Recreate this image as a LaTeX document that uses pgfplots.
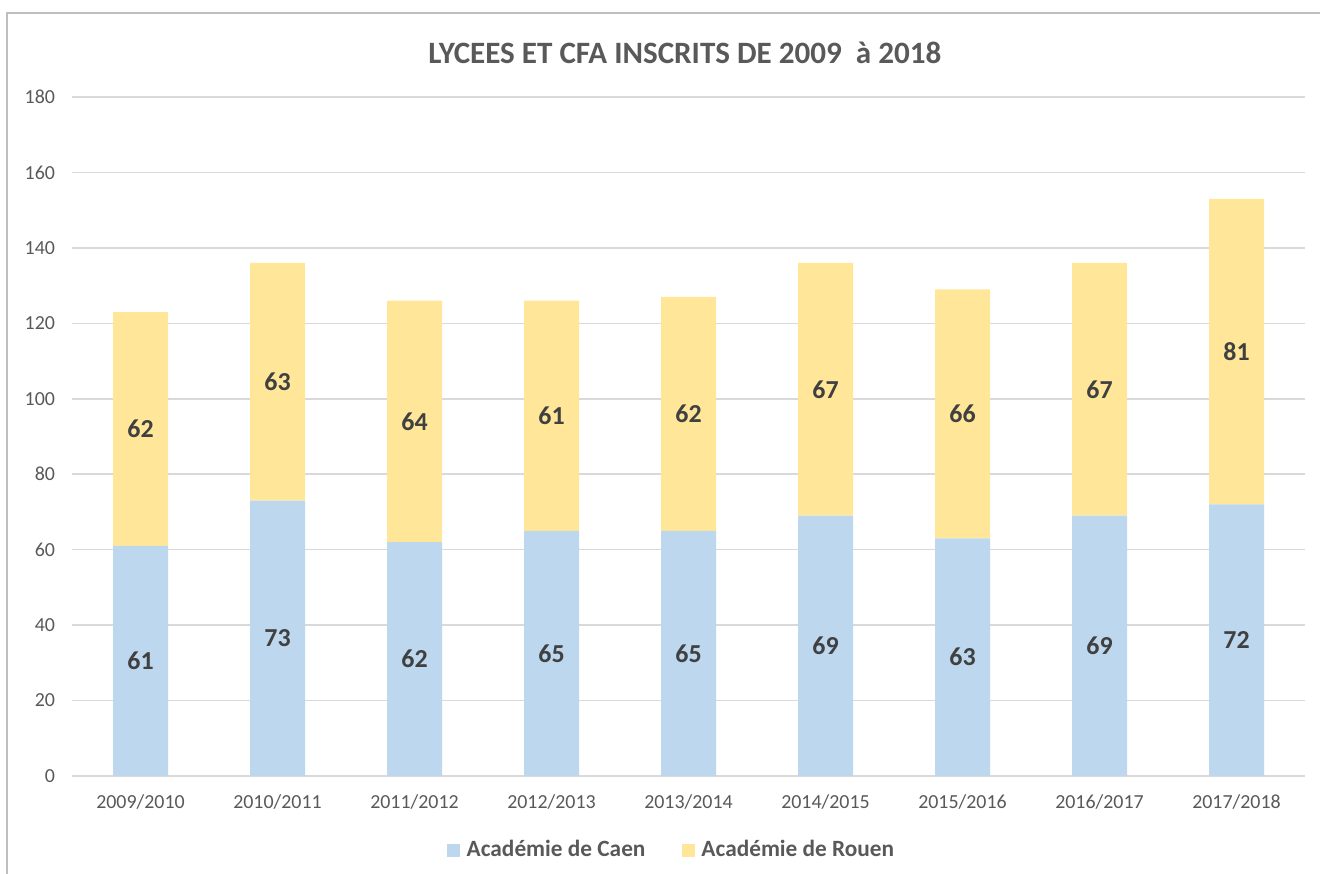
\documentclass[border=0pt]{standalone}
\usepackage{fontspec}
\setmainfont{Carlito}
\usepackage{pgfplots}
\pgfplotsset{compat=1.18}
\definecolor{caen}{HTML}{BDD7EE}
\definecolor{rouen}{HTML}{FFE699}
\definecolor{gridc}{HTML}{D9D9D9}
\definecolor{txt}{HTML}{595959}
\definecolor{lbl}{HTML}{404040}
\definecolor{frame}{HTML}{BFBFBF}
\begin{document}
\begin{tikzpicture}
\useasboundingbox (0,0) rectangle (660bp,437bp);
\draw[frame, line width=0.75bp] (3.5bp,0) -- (3.5bp,430.5bp) -- (660bp,430.5bp);
\pgfplotsset{common/.style={
  at={(36bp,49bp)}, anchor=south west, scale only axis,
  width=616.5bp, height=339.5bp,
  xmin=-0.5, xmax=8.5, ymin=0, ymax=180,
}}
\begin{axis}[common,
  ybar stacked, bar width=27.5bp,
  axis line style={draw=none},
  major tick length=0pt,
  ymajorgrids, grid style={gridc, line width=0.75bp},
  ytick={0,20,...,180},
  xtick={0,...,8},
  xticklabels={2009/2010,2010/2011,2011/2012,2012/2013,2013/2014,2014/2015,2015/2016,2016/2017,2017/2018},
  /pgf/number format/assume math mode=true,
  ticklabel style={font=\fontsize{10}{12}\selectfont, text=txt},
  xticklabel style={yshift=-6bp},
  yticklabel style={xshift=-5bp},
  title={LYCEES ET CFA INSCRITS DE 2009 \ à 2018},
  title style={at={(0.497,1.048)}, anchor=center, font=\fontsize{15.6}{18}\selectfont\bfseries, text=txt},
  legend columns=2,
  legend style={at={(0.487,-0.109)}, anchor=center, draw=none, fill=none,
    font=\fontsize{11.7}{14}\selectfont\bfseries, text=txt,
    /tikz/every even column/.append style={column sep=16bp}},
  legend image code/.code={\fill[#1, draw=none] (0bp,-3.25bp) rectangle (6.5bp,3.25bp); \path (8bp,0bp);},
]
\addplot[fill=caen, draw=none] coordinates {(0,61) (1,73) (2,62) (3,65) (4,65) (5,69) (6,63) (7,69) (8,72)};
\addlegendentry{Académie de Caen}
\addplot[fill=rouen, draw=none] coordinates {(0,62) (1,63) (2,64) (3,61) (4,62) (5,67) (6,66) (7,67) (8,81)};
\addlegendentry{Académie de Rouen}
\end{axis}
\begin{axis}[common, hide axis]
\addplot[only marks, mark=none, point meta=explicit symbolic, nodes near coords,
  nodes near coords align=center,
  every node near coord/.append style={anchor=center, font=\fontsize{13}{15}\selectfont\bfseries, text=lbl}]
  coordinates {
  (0,30.5)[61] (1,36.5)[73] (2,31)[62] (3,32.5)[65] (4,32.5)[65] (5,34.5)[69] (6,31.5)[63] (7,34.5)[69] (8,36)[72]
  (0,92)[62] (1,104.5)[63] (2,94)[64] (3,95.5)[61] (4,96)[62] (5,102.5)[67] (6,96)[66] (7,102.5)[67] (8,112.5)[81]
  };
\end{axis}
\end{tikzpicture}
\end{document}
